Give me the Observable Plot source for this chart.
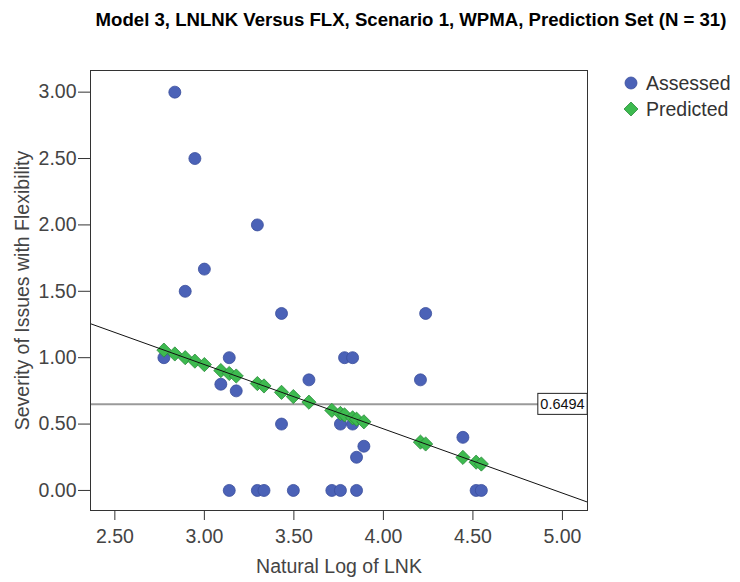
<!DOCTYPE html>
<html><head><meta charset="utf-8">
<script src="https://cdn.jsdelivr.net/npm/d3@7"></script>
<script src="https://cdn.jsdelivr.net/npm/@observablehq/plot@0.6"></script>
<style>
body{margin:0;background:#fff;font-family:"Liberation Sans",Arial,sans-serif;}
#wrap{position:relative;width:740px;height:582px;}
#legend{position:absolute;left:622px;top:70px;font-size:19.5px;color:#333;line-height:26px;}
#legend div{display:flex;align-items:center;white-space:nowrap;}
#legend svg{margin-right:6px;}
</style></head><body><div id="wrap"><div id="legend"></div></div>
<script>
const titleText = "Model 3, LNLNK Versus FLX, Scenario 1, WPMA, Prediction Set (N = 31)";
const xLabel = "Natural Log of LNK";
const yLabel = "Severity of Issues with Flexibility";
const seriesNames = ["Assessed", "Predicted"];
const seriesFill = ["#4b62b7", "#3dba4f"];
const seriesStroke = ["#3a4e9c", "#2b8a3b"];
const xTicks = [2.5, 3.0, 3.5, 4.0, 4.5, 5.0];
const yTicks = [0, 0.5, 1.0, 1.5, 2.0, 2.5, 3.0];
const xDomain = [2.364, 5.14];
const yDomain = [-0.151, 3.163];

const assessedX = [2.774, 2.835, 2.893, 2.947, 3.000, 3.092, 3.139, 3.139, 3.178, 3.296, 3.296, 3.333, 3.431, 3.431, 3.497, 3.584, 3.712, 3.760, 3.760, 3.783, 3.828, 3.828, 3.850, 3.850, 3.891, 4.207, 4.236, 4.444, 4.518, 4.547];
const assessedY = [1.000, 3.000, 1.500, 2.500, 1.667, 0.800, 1.000, 0.000, 0.750, 2.000, 0.000, 0.000, 1.333, 0.500, 0.000, 0.833, 0.000, 0.500, 0.000, 1.000, 1.000, 0.500, 0.250, 0.000, 0.333, 0.833, 1.333, 0.400, 0.000, 0.000];

const predictedX = [2.774, 2.835, 2.893, 2.947, 3.000, 3.092, 3.139, 3.178, 3.296, 3.333, 3.431, 3.497, 3.584, 3.712, 3.760, 3.783, 3.828, 3.850, 3.891, 4.207, 4.236, 4.444, 4.518, 4.547];
const predictedY = [1.057, 1.028, 1.000, 0.974, 0.948, 0.903, 0.881, 0.862, 0.805, 0.787, 0.739, 0.707, 0.665, 0.603, 0.580, 0.569, 0.547, 0.537, 0.517, 0.364, 0.350, 0.249, 0.213, 0.199];

const meanValue = 0.6494;
const fitIntercept = 2.400;
const fitSlope = -0.484;

const assessed = assessedX.map((x, i) => ({x, y: assessedY[i]}));
const predicted = predictedX.map((x, i) => ({x, y: predictedY[i]}));
const fmt = d3.format(".2f");
const font = "'Liberation Sans', Arial, sans-serif";

const chart = Plot.plot({
  width: 740, height: 582,
  marginLeft: 90, marginRight: 153, marginTop: 70, marginBottom: 72,
  style: {fontFamily: font, fontSize: "19.5px", background: "#fff", color: "#444"},
  x: {domain: xDomain},
  y: {domain: yDomain},
  marks: [
    Plot.ruleY([meanValue], {stroke: "#9a9a9a", strokeWidth: 2}),
    Plot.dot(assessed, {x: "x", y: "y", r: 6, fill: seriesFill[0], stroke: seriesStroke[0], strokeWidth: 0.8, symbol: "circle"}),
    Plot.dot(predicted, {x: "x", y: "y", r: 6.4, fill: seriesFill[1], stroke: seriesStroke[1], strokeWidth: 0.8, symbol: "diamond2"}),
    Plot.link([0], {x1: () => xDomain[0], x2: () => xDomain[1], y1: () => fitIntercept + fitSlope * xDomain[0], y2: () => fitIntercept + fitSlope * xDomain[1], stroke: "#111", strokeWidth: 1}),
    Plot.frame({stroke: "#333", strokeWidth: 1}),
    Plot.axisX({ticks: xTicks, tickFormat: fmt, tickSize: 10, tickPadding: 9, label: null, stroke: "#333", fill: "#444", fontSize: 19.5}),
    Plot.axisY({ticks: yTicks, tickFormat: fmt, tickSize: 12, tickPadding: 2, label: null, stroke: "#333", fill: "#444", fontSize: 19.5}),
    Plot.text([meanValue], {y: d => d, text: d => d.toFixed(4), frameAnchor: "right", dx: -25, textAnchor: "middle", fontSize: 14.5, fill: "#111"}),
    Plot.text([xLabel], {text: d => d, frameAnchor: "bottom", dy: 56, textAnchor: "middle", lineAnchor: "middle", fontSize: 19.5, fill: "#444"}),
    Plot.text([yLabel], {text: d => d, frameAnchor: "left", dx: -68, rotate: -90, textAnchor: "middle", lineAnchor: "middle", fontSize: 19.5, fill: "#444"}),
    Plot.text([titleText], {text: d => d, frameAnchor: "top", dy: -50, dx: 72, textAnchor: "middle", lineAnchor: "middle", fontSize: 18.6, fontWeight: "bold", fill: "#000"})
  ]
});
const wrap = document.getElementById("wrap");
wrap.insertBefore(chart, wrap.firstChild);

// box behind mean label
d3.select(chart).selectAll("text").filter(function() { return this.textContent === meanValue.toFixed(4); }).each(function() {
  const bb = this.getBBox();
  const g = this.parentNode;
  const t = this.getAttribute("transform");
  const rect = document.createElementNS("http://www.w3.org/2000/svg", "rect");
  rect.setAttribute("x", bb.x - 2.5);
  rect.setAttribute("y", bb.y - 2.5);
  rect.setAttribute("width", bb.width + 5);
  rect.setAttribute("height", bb.height + 5);
  rect.setAttribute("fill", "#fff");
  rect.setAttribute("stroke", "#222");
  rect.setAttribute("stroke-width", 1);
  if (t) rect.setAttribute("transform", t);
  g.insertBefore(rect, this);
});

// legend
const legend = document.getElementById("legend");
seriesNames.forEach((name, i) => {
  const row = document.createElement("div");
  const shape = i === 0
    ? `<circle cx="9" cy="9" r="6" fill="${seriesFill[i]}" stroke="${seriesStroke[i]}" stroke-width="0.8"/>`
    : `<path d="M9,2 L16,9 L9,16 L2,9 Z" fill="${seriesFill[i]}" stroke="${seriesStroke[i]}" stroke-width="0.8"/>`;
  row.innerHTML = `<svg width="18" height="18">${shape}</svg><span>${name}</span>`;
  legend.appendChild(row);
});
</script>
</body></html>
